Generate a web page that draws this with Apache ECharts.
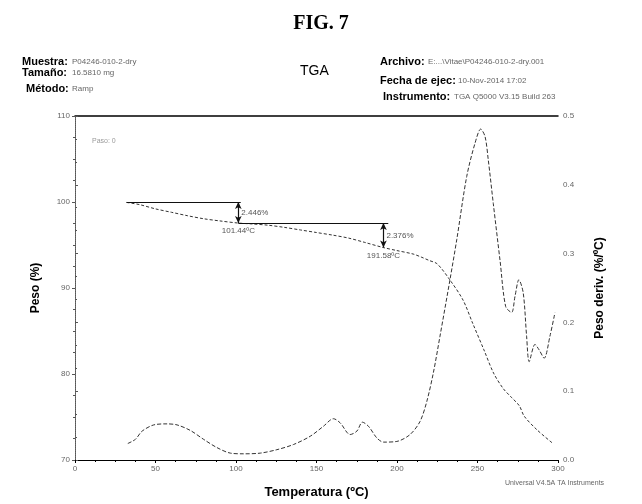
<!DOCTYPE html>
<html><head><meta charset="utf-8">
<script src="https://cdn.jsdelivr.net/npm/echarts@6/dist/echarts.min.js"></script>
<style>html,body{margin:0;padding:0;background:#fff}#c{width:642px;height:504px}</style>
</head><body><div id="c"></div>
<script>
// ---- data ----
var xTicks = [0, 50, 100, 150, 200, 250, 300];
var weightTemp = [32, 40, 50, 60, 70, 80, 90, 101.44, 110, 120, 130, 140, 150, 160, 170, 180, 191.58, 200, 210, 215, 220, 225, 233, 241, 247, 254, 260, 266, 271, 276, 279, 287, 297];
var weightPct  = [99.95, 99.7, 99.2, 98.8, 98.4, 98.05, 97.8, 97.55, 97.45, 97.3, 97.05, 96.75, 96.45, 96.15, 95.8, 95.3, 94.7, 94.35, 93.95, 93.6, 93.2, 92.8, 90.9, 88.6, 85.9, 82.8, 80.1, 78.3, 77.3, 76.3, 75.1, 73.5, 71.9];
var derivTemp = [32.8, 37.5, 41.7, 48.9, 57.2, 63.4, 71.6, 79.9, 88.2, 96.5, 104.7, 115.1, 125.4, 135.7, 146.1, 154.3, 160.5, 164.7, 170.9, 175.1, 178.5, 182.3, 187.5, 191.6, 199.9, 208.1, 214.3, 218.5, 222.6, 226.7, 232.9, 237.1, 243.3, 248.4, 252.0, 254.7, 256.7, 259.8, 264.0, 267.5, 271.2, 273.3, 275.7, 278.4, 280.5, 282.1, 285.7, 288.3, 291.4, 295.0, 298.1];
var derivVal  = [0.024, 0.030, 0.042, 0.051, 0.0525, 0.051, 0.043, 0.030, 0.018, 0.010, 0.009, 0.010, 0.015, 0.0225, 0.0345, 0.049, 0.060, 0.054, 0.037, 0.042, 0.055, 0.049, 0.032, 0.026, 0.027, 0.037, 0.056, 0.085, 0.127, 0.180, 0.262, 0.320, 0.412, 0.460, 0.481, 0.470, 0.436, 0.373, 0.290, 0.223, 0.2145, 0.238, 0.262, 0.243, 0.180, 0.143, 0.168, 0.160, 0.148, 0.180, 0.214];
var stepStart = 32;
var stepTemps = [101.44, 191.58];
var stepLevels = [100, 97.55, 94.7];
var stepLossLabels = ['2.446%', '2.376%'];
var stepTempLabels = ['101.44\u00baC', '191.58\u00baC'];

var weightData = weightTemp.map(function(t, i){ return [t, weightPct[i]]; });
var derivData = derivTemp.map(function(t, i){ return [t, derivVal[i]]; });

var F = 'Liberation Sans, Arial, sans-serif';
var grey = '#666';

var ml = [];
ml.push([{coord: [stepStart, stepLevels[0]]}, {coord: [stepTemps[0] + 1.5, stepLevels[0]]}]);
ml.push([{coord: [stepTemps[0], stepLevels[1]]}, {coord: [stepTemps[1] + 3, stepLevels[1]]}]);
var arrows = [];
for (var i = 0; i < stepTemps.length; i++) {
  arrows.push([{coord: [stepTemps[i], stepLevels[i]]}, {coord: [stepTemps[i], stepLevels[i + 1]]}]);
}
var mp = [];
for (var j = 0; j < stepTemps.length; j++) {
  mp.push({coord: [stepTemps[j], (stepLevels[j] + stepLevels[j + 1]) / 2], value: stepLossLabels[j],
    label: {show: true, position: 'right', distance: 3, formatter: stepLossLabels[j], color: '#555', fontSize: 8, fontFamily: F}});
  mp.push({coord: [stepTemps[j], stepLevels[j + 1]], value: stepTempLabels[j],
    label: {show: true, position: 'bottom', distance: 4, formatter: stepTempLabels[j], color: '#555', fontSize: 8, fontFamily: F}});
}

var chart = echarts.init(document.getElementById('c'), null, {renderer: 'canvas'});
chart.setOption({
  backgroundColor: '#fff',
  animation: false,
  title: {text: 'FIG. 7', left: 'center', top: 9, textStyle: {fontFamily: 'Liberation Serif, Times New Roman, serif', fontWeight: 'bold', fontSize: 20, color: '#000'}},
  graphic: [
    {type: 'text', left: 22, top: 56, style: {text: 'Muestra:', font: 'bold 11px ' + F, fill: '#000'}},
    {type: 'text', left: 72, top: 58, style: {text: 'P04246-010-2-dry', font: '8px ' + F, fill: grey}},
    {type: 'text', left: 22, top: 67, style: {text: 'Tamaño:', font: 'bold 11px ' + F, fill: '#000'}},
    {type: 'text', left: 72, top: 69, style: {text: '16.5810 mg', font: '8px ' + F, fill: grey}},
    {type: 'text', left: 26, top: 83, style: {text: 'Método:', font: 'bold 11px ' + F, fill: '#000'}},
    {type: 'text', left: 72, top: 85, style: {text: 'Ramp', font: '8px ' + F, fill: grey}},
    {type: 'text', left: 300, top: 64, style: {text: 'TGA', font: '14px ' + F, fill: '#000'}},
    {type: 'text', left: 380, top: 56, style: {text: 'Archivo:', font: 'bold 11px ' + F, fill: '#000'}},
    {type: 'text', left: 428, top: 58, style: {text: 'E:...\\Vitae\\P04246-010-2-dry.001', font: '8px ' + F, fill: grey}},
    {type: 'text', left: 380, top: 75, style: {text: 'Fecha de ejec:', font: 'bold 11px ' + F, fill: '#000'}},
    {type: 'text', left: 458, top: 77, style: {text: '10-Nov-2014 17:02', font: '8px ' + F, fill: grey}},
    {type: 'text', left: 383, top: 91, style: {text: 'Instrumento:', font: 'bold 11px ' + F, fill: '#000'}},
    {type: 'text', left: 454, top: 93, style: {text: 'TGA Q5000 V3.15 Build 263', font: '8px ' + F, fill: grey}},
    {type: 'text', left: 92, top: 138, style: {text: 'Paso: 0', font: '7px ' + F, fill: '#999'}},
    {type: 'text', left: 505, top: 480, style: {text: 'Universal V4.5A TA Instruments', font: '7px ' + F, fill: grey}}
  ],
  grid: {left: 75, right: 84, top: 116, bottom: 44, containLabel: false},
  xAxis: [{
    type: 'value', min: 0, max: 300, interval: 50, position: 'bottom',
    name: 'Temperatura (\u00baC)', nameLocation: 'middle', nameGap: 26,
    nameTextStyle: {fontFamily: F, fontWeight: 'bold', fontSize: 13, color: '#000'},
    axisLine: {lineStyle: {color: '#000', width: 1}},
    axisTick: {show: true, length: 3, lineStyle: {color: '#000'}},
    minorTick: {show: true, splitNumber: 4, length: 2, lineStyle: {color: '#000'}},
    axisLabel: {color: grey, fontSize: 8, fontFamily: F, margin: 5},
    splitLine: {show: false}
  }, {
    type: 'value', min: 0, max: 300, position: 'top',
    axisLine: {show: true, lineStyle: {color: '#000', width: 1.5}},
    axisTick: {show: false}, axisLabel: {show: false}, splitLine: {show: false}
  }],
  yAxis: [{
    type: 'value', min: 70, max: 110, interval: 10, position: 'left',
    name: 'Peso (%)', nameLocation: 'middle', nameGap: 33, nameRotate: 90,
    nameTextStyle: {fontFamily: F, fontWeight: 'bold', fontSize: 12, color: '#000'},
    axisLine: {show: true, lineStyle: {color: '#555', type: [1, 1], width: 1}},
    axisTick: {show: true, length: 3, lineStyle: {color: '#555'}},
    minorTick: {show: true, splitNumber: 4, length: 2, lineStyle: {color: '#555'}},
    axisLabel: {color: grey, fontSize: 8, fontFamily: F, margin: 5},
    splitLine: {show: false}
  }, {
    type: 'value', min: 0, max: 0.5, interval: 0.1, position: 'right',
    name: 'Peso deriv. (%/\u00baC)', nameLocation: 'middle', nameGap: 36, nameRotate: 90,
    nameTextStyle: {fontFamily: F, fontWeight: 'bold', fontSize: 12, color: '#000'},
    axisLine: {show: true, lineStyle: {color: '#555', type: [1, 1], width: 1}},
    axisTick: {show: true, length: 3, lineStyle: {color: '#555'}},
    minorTick: {show: true, splitNumber: 3, length: 2, lineStyle: {color: '#555'}},
    axisLabel: {color: grey, fontSize: 8, fontFamily: F, margin: 5, formatter: function(v){ return v.toFixed(1); }},
    splitLine: {show: false}
  }],
  series: [{
    type: 'line', name: 'Peso', xAxisIndex: 0, yAxisIndex: 0, data: weightData,
    showSymbol: false, smooth: 0.3,
    lineStyle: {color: '#333', width: 1, type: [3, 2]},
    markLine: {
      silent: true, symbol: ['none', 'none'], label: {show: false},
      lineStyle: {color: '#111', width: 1, type: 'solid'},
      data: ml
    },
    markPoint: {symbol: 'circle', symbolSize: 0, data: mp}
  }, {
    type: 'line', name: 'Flechas', xAxisIndex: 0, yAxisIndex: 0, data: [], showSymbol: false,
    markLine: {
      silent: true, symbol: ['arrow', 'arrow'], symbolSize: [5, 7], label: {show: false},
      lineStyle: {color: '#111', width: 1.2, type: 'solid'},
      data: arrows
    }
  }, {
    type: 'line', name: 'Deriv', xAxisIndex: 0, yAxisIndex: 1, data: derivData,
    showSymbol: false, smooth: 0.3,
    lineStyle: {color: '#333', width: 1, type: [4, 2]}
  }]
});
</script>
</body></html>
